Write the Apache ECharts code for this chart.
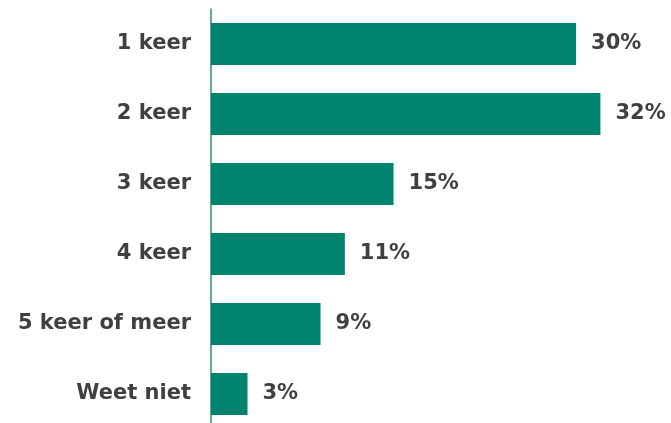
<!DOCTYPE html>
<html>
<head>
<meta charset="utf-8">
<script src="https://cdn.jsdelivr.net/npm/echarts@6/dist/echarts.min.js"></script>
<style>
  html, body { margin: 0; padding: 0; background: #fff; overflow: hidden; }
  #chart { width: 671px; height: 430px; }
</style>
</head>
<body>
<div id="chart"></div>
<script>
// Answer categories, top to bottom
const categories = ['1 keer', '2 keer', '3 keer', '4 keer', '5 keer of meer', 'Weet niet'];
// Share of respondents (%)
const shares = [30, 32, 15, 11, 9, 3];

const chart = echarts.init(document.getElementById('chart'), null, { renderer: 'canvas' });

const textColor = '#404040';
const barColor = '#00846E';
const fontFamily = '"DejaVu Sans", Verdana, sans-serif';

chart.setOption({
  animation: false,
  backgroundColor: '#ffffff',
  grid: { left: 211, right: 0, top: 9, height: 420, containLabel: false },
  xAxis: {
    type: 'value',
    min: 0,
    max: 37.8,
    show: false
  },
  yAxis: {
    type: 'category',
    data: categories,
    inverse: true,
    axisLine: { show: true, lineStyle: { color: '#2E8B7A', width: 1.5 } },
    axisTick: { show: false },
    axisLabel: {
      margin: 20,
      color: textColor,
      fontFamily: fontFamily,
      fontWeight: 'bold',
      fontSize: 21
    }
  },
  series: [{
    type: 'bar',
    data: shares,
    barWidth: 42,
    itemStyle: { color: barColor },
    label: {
      show: true,
      position: 'right',
      distance: 15,
      formatter: '{c}%',
      color: textColor,
      fontFamily: fontFamily,
      fontWeight: 'bold',
      fontSize: 21
    }
  }]
});
</script>
</body>
</html>
